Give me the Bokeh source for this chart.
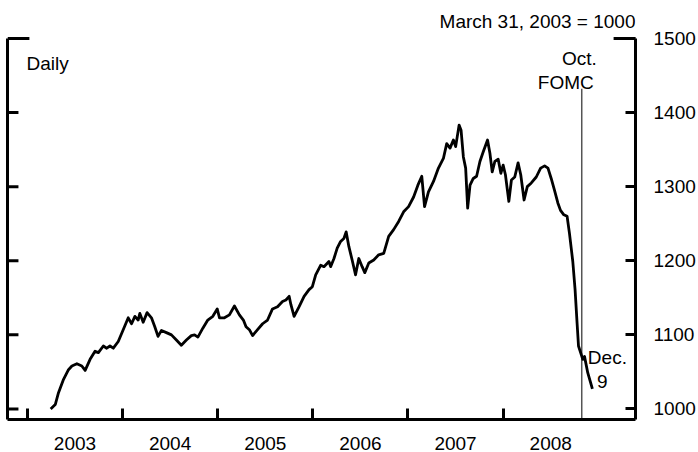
from bokeh.plotting import figure
from bokeh.models import Range1d, LinearAxis, FixedTicker, Label, Arrow
from bokeh.embed import file_html
from bokeh.resources import INLINE

# ---- data ----
years = [2003.245, 2003.293, 2003.327, 2003.380, 2003.432, 2003.468, 2003.520, 2003.572, 2003.607, 2003.659,
         2003.711, 2003.746, 2003.798, 2003.834, 2003.868, 2003.903, 2003.955,
         2004.007, 2004.060, 2004.095, 2004.130, 2004.164, 2004.182, 2004.217, 2004.258, 2004.304, 2004.339,
         2004.373, 2004.409, 2004.461, 2004.514, 2004.566, 2004.618, 2004.671, 2004.723, 2004.757, 2004.792,
         2004.844, 2004.896, 2004.949, 2004.995,
         2005.019, 2005.071, 2005.123, 2005.176, 2005.228, 2005.270, 2005.298, 2005.333, 2005.367, 2005.419,
         2005.472, 2005.524, 2005.576, 2005.629, 2005.681, 2005.717, 2005.751, 2005.769, 2005.803, 2005.856,
         2005.908, 2005.960, 2005.995,
         2006.030, 2006.083, 2006.117, 2006.169, 2006.187, 2006.222, 2006.256, 2006.292, 2006.326, 2006.350,
         2006.379, 2006.413, 2006.449, 2006.483, 2006.518, 2006.546, 2006.588, 2006.640, 2006.692, 2006.745,
         2006.797, 2006.849, 2006.902, 2006.954,
         2007.006, 2007.059, 2007.104, 2007.145, 2007.174, 2007.215, 2007.268, 2007.320, 2007.372, 2007.407,
         2007.442, 2007.477, 2007.501, 2007.537, 2007.558, 2007.582, 2007.606, 2007.627, 2007.652, 2007.686,
         2007.721, 2007.756, 2007.791, 2007.836, 2007.861, 2007.885, 2007.913, 2007.948, 2007.976,
         2008.000, 2008.024, 2008.060, 2008.087, 2008.122, 2008.157, 2008.185, 2008.220, 2008.254, 2008.296,
         2008.348, 2008.394, 2008.436, 2008.471, 2008.505, 2008.540, 2008.575, 2008.603, 2008.638, 2008.672,
         2008.697, 2008.732, 2008.756, 2008.777, 2008.792, 2008.837, 2008.855, 2008.889, 2008.938]

index_values = [1000, 1006, 1022, 1040, 1053, 1058, 1061, 1058, 1052, 1067, 1078, 1076, 1085, 1082, 1085, 1082, 1091,
                1107, 1123, 1115, 1125, 1120, 1129, 1117, 1130, 1123, 1111, 1098, 1106, 1103, 1100, 1093, 1086,
                1093, 1099, 1100, 1097, 1109, 1120, 1125, 1135,
                1123, 1123, 1127, 1139, 1127, 1120, 1111, 1107, 1099, 1107, 1115, 1120, 1135, 1138, 1145, 1147,
                1152, 1141, 1125, 1138, 1152, 1161, 1165,
                1181, 1194, 1192, 1199, 1192, 1203, 1217, 1226, 1230, 1239, 1219, 1201, 1181, 1203, 1192, 1184,
                1197, 1201, 1208, 1210, 1233, 1242, 1253, 1266,
                1273, 1286, 1302, 1314, 1273, 1293, 1307, 1325, 1338, 1358, 1352, 1363, 1354, 1383, 1376, 1340,
                1325, 1271, 1302, 1311, 1314, 1334, 1347, 1363, 1345, 1320, 1334, 1337, 1318,
                1329, 1316, 1280, 1309, 1313, 1332, 1316, 1282, 1300, 1305, 1313, 1325, 1328, 1325, 1311, 1295,
                1278, 1268, 1262, 1260, 1237, 1199, 1161, 1116, 1085, 1067, 1071, 1049, 1027]

year_labels = ["2003", "2004", "2005", "2006", "2007", "2008"]
year_starts = [2003, 2004, 2005, 2006, 2007, 2008]
y_ticks = [1000, 1100, 1200, 1300, 1400, 1500]
fomc_date = 2008.826          # Oct. 29, 2008 FOMC
fomc_line_top = 1432

# ---- layout constants ----
X_LO, X_HI = 2002.791, 2009.391
Y_LO, Y_TOP_AXIS = 985.8, 1500
FRAME_W, FRAME_H = 631.0, 420.0
PX_PER_UNIT = 382.0 / (Y_TOP_AXIS - Y_LO)
Y_HI = Y_LO + FRAME_H / PX_PER_UNIT      # room above the axes for the header text
PX_PER_YEAR = FRAME_W / (X_HI - X_LO)

FONT = "Liberation Sans"
FS = "19px"

p = figure(width=698, height=452, output_backend="svg", toolbar_location=None,
           x_range=Range1d(X_LO, X_HI), y_range=Range1d(Y_LO, Y_HI),
           x_axis_location=None, y_axis_location=None,
           min_border_left=7, min_border_right=0, min_border_top=0, min_border_bottom=0)
p.outline_line_color = None
p.xgrid.visible = False
p.ygrid.visible = False
p.background_fill_color = "white"
p.border_fill_color = "white"


def style_axis(ax):
    ax.axis_line_width = 3
    ax.axis_line_color = "black"
    ax.major_tick_line_width = 3
    ax.major_tick_line_color = "black"
    ax.major_tick_out = 0
    ax.minor_tick_out = 0
    ax.minor_tick_in = 0
    ax.major_label_text_font = FONT
    ax.major_label_text_font_size = FS
    ax.major_label_text_color = "black"


# left axis: line only (ticks drawn below)
left = LinearAxis(ticker=FixedTicker(ticks=[]), bounds=(Y_LO, Y_TOP_AXIS))
style_axis(left)
left.major_tick_in = 0
left.major_label_standoff = 0
p.add_layout(left, "left")

# right axis: ticks + labels
right = LinearAxis(ticker=FixedTicker(ticks=y_ticks), bounds=(Y_LO, Y_TOP_AXIS))
style_axis(right)
right.major_tick_in = 10
right.major_label_standoff = 18
p.add_layout(right, "right")

# bottom axis: year-boundary ticks, labels mid-year
mid_years = [y + 0.5 for y in year_starts]
below = LinearAxis(ticker=FixedTicker(ticks=mid_years, minor_ticks=year_starts))
style_axis(below)
below.major_tick_in = 0
below.minor_tick_in = 11
below.minor_tick_line_width = 3
below.minor_tick_line_color = "black"
below.major_label_overrides = {m: lab for m, lab in zip(mid_years, year_labels)}
below.major_label_standoff = 17
p.add_layout(below, "below")

# left inward ticks
tick_len = 11 / PX_PER_YEAR
inner = [t for t in y_ticks if t < Y_TOP_AXIS]
p.segment(x0=[X_LO] * len(inner), y0=inner, x1=[X_LO + tick_len] * len(inner), y1=inner,
          line_color="black", line_width=3)

# corner stubs at the top of both vertical axes
stub = 22 / PX_PER_YEAR
p.add_layout(Arrow(end=None, x_start=X_LO, y_start=Y_TOP_AXIS, x_end=X_LO + stub, y_end=Y_TOP_AXIS,
                   line_width=3, line_color="black"))
p.add_layout(Arrow(end=None, x_start=X_HI - stub, y_start=Y_TOP_AXIS, x_end=X_HI, y_end=Y_TOP_AXIS,
                   line_width=3, line_color="black"))

# FOMC vertical line
p.segment(x0=[fomc_date], y0=[Y_LO], x1=[fomc_date], y1=[fomc_line_top],
          line_color="#555555", line_width=1.5)

# series
p.line(years, index_values, line_color="black", line_width=2.8, line_join="round")


# texts
def add_label(x, y, text, align, xo=0, yo=0):
    p.add_layout(Label(x=x, y=y, x_offset=xo, y_offset=yo, text=text, text_align=align,
                       text_baseline="alphabetic", text_font=FONT, text_font_size=FS,
                       text_color="black"))


add_label(X_HI, Y_TOP_AXIS, "March 31, 2003 = 1000", "right", 0, 17)
add_label(X_LO, Y_TOP_AXIS, "Daily", "left", 19, -25)
add_label(fomc_date, Y_TOP_AXIS, "Oct.", "right", 15, -20)
add_label(fomc_date, Y_TOP_AXIS, "FOMC", "right", 12, -44)
add_label(years[-1], index_values[-1], "Dec.", "center", 15, 31)
add_label(years[-1], index_values[-1], "9", "center", 10, 7)

open("out.html", "w").write(file_html(p, INLINE))
